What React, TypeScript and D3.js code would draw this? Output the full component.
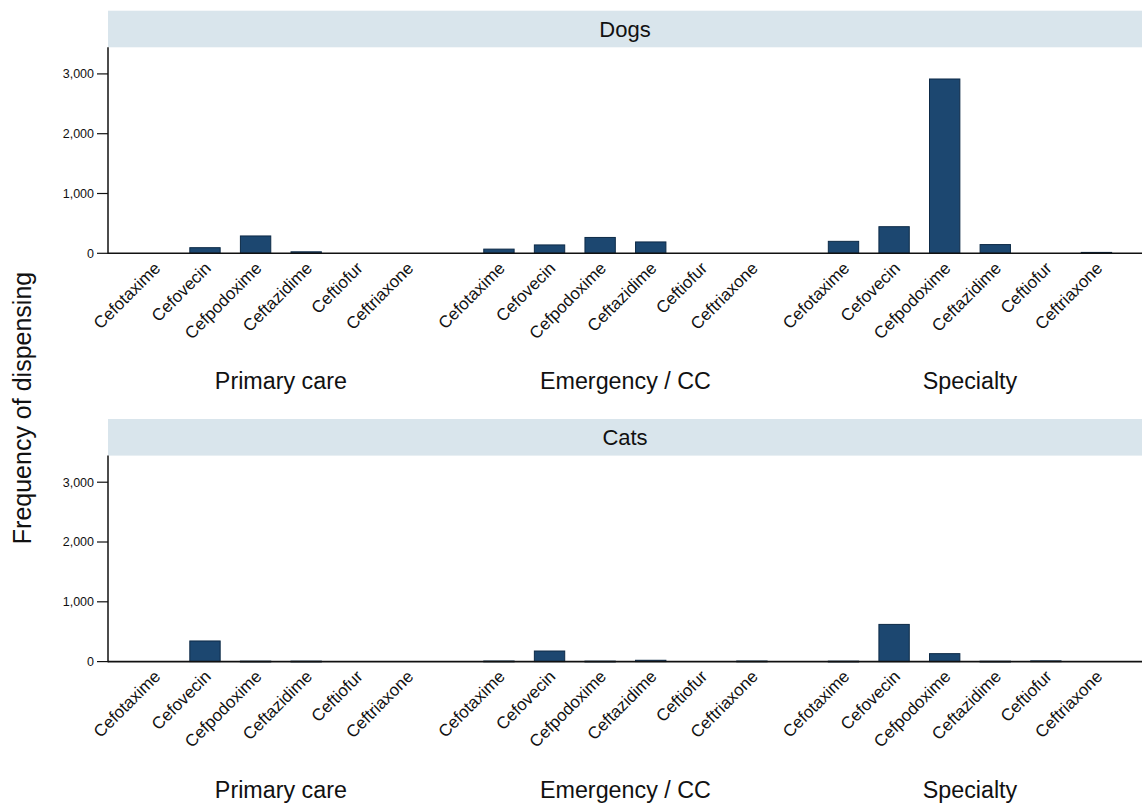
import React from "react";
import * as d3 from "d3";

// Cephalosporin dispensing counts by clinic type, for dogs and cats
const drugs = ["Cefotaxime", "Cefovecin", "Cefpodoxime", "Ceftazidime", "Ceftiofur", "Ceftriaxone"];
const settings = ["Primary care", "Emergency / CC", "Specialty"];

const dogsPrimary = [0, 94, 290, 25, 0, 0];
const dogsEmergency = [70, 140, 265, 190, 0, 0];
const dogsSpecialty = [200, 445, 2915, 146, 0, 15];

const catsPrimary = [0, 345, 8, 8, 0, 0];
const catsEmergency = [10, 177, 8, 22, 0, 10];
const catsSpecialty = [8, 622, 133, 7, 12, 0];

const yTicks = [0, 1000, 2000, 3000];

const panels = [
  { title: "Dogs", groups: [dogsPrimary, dogsEmergency, dogsSpecialty] },
  { title: "Cats", groups: [catsPrimary, catsEmergency, catsSpecialty] },
];

const W = 1142;
const H = 805;
const plotLeft = 108;
const plotRight = 1142;
const groupGap = 0.81; // extra space between clinic groups, in bar slots
const barWidthUnits = 0.6;
const lastSlot = 2 * (drugs.length + groupGap) + drugs.length - 1;

const x = d3
  .scaleLinear()
  .domain([-0.917, lastSlot + 0.9])
  .range([plotLeft, plotRight]);

const slot = (g: number, i: number) => g * (drugs.length + groupGap) + i;

const panelTops = [10.7, 419];
const stripH = 36.6;
const plotH = 206;

const fmt = d3.format(",");
const font = "'Liberation Sans', Arial, Helvetica, sans-serif";
const barFill = "#1c4770";
const barStroke = "#0d2a47";

function Panel({ top, title, groups }: { top: number; title: string; groups: number[][] }) {
  const plotTop = top + stripH;
  const base = plotTop + plotH;
  const y = d3.scaleLinear().domain([0, 3445]).range([base, plotTop]);
  const bw = x(barWidthUnits) - x(0);

  return (
    <g>
      <rect x={plotLeft} y={top} width={plotRight - plotLeft} height={stripH} fill="#d9e5ec" />
      <text
        x={(plotLeft + plotRight) / 2}
        y={top + stripH / 2 + 7.5}
        textAnchor="middle"
        fontSize={22}
        fontFamily={font}
        fill="#111"
      >
        {title}
      </text>

      {groups.map((vals, g) =>
        vals.map((v, i) => {
          const cx = x(slot(g, i));
          return v > 0 ? (
            <rect
              key={`b${g}-${i}`}
              x={cx - bw / 2}
              y={y(v)}
              width={bw}
              height={Math.max(base - y(v), 0.8)}
              fill={barFill}
              stroke={barStroke}
              strokeWidth={1}
            />
          ) : null;
        })
      )}

      {/* y axis */}
      <line x1={plotLeft} x2={plotLeft} y1={plotTop} y2={base + 0.75} stroke="#111" strokeWidth={1.5} />
      {yTicks.map((t) => (
        <g key={t}>
          <line x1={plotLeft - 11} x2={plotLeft} y1={y(t)} y2={y(t)} stroke="#111" strokeWidth={1.2} />
          <text
            x={plotLeft - 14}
            y={y(t) + 4.3}
            textAnchor="end"
            fontSize={12.5}
            fontFamily={font}
            fill="#111"
          >
            {fmt(t)}
          </text>
        </g>
      ))}

      {/* x axis */}
      <line x1={plotLeft} x2={plotRight} y1={base} y2={base} stroke="#111" strokeWidth={1.6} />

      {groups.map((_, g) =>
        drugs.map((d, i) => {
          const cx = x(slot(g, i));
          const ax = cx + 7;
          const ay = base + 16;
          return (
            <text
              key={`l${g}-${i}`}
              x={ax}
              y={ay}
              transform={`rotate(-45 ${ax} ${ay})`}
              textAnchor="end"
              fontSize={17}
              fontFamily={font}
              fill="#111"
            >
              {d}
            </text>
          );
        })
      )}

      {settings.map((s, g) => (
        <text
          key={s}
          x={(x(slot(g, 0)) + x(slot(g, drugs.length - 1))) / 2}
          y={base + 136}
          textAnchor="middle"
          fontSize={23.3}
          fontFamily={font}
          fill="#111"
        >
          {s}
        </text>
      ))}
    </g>
  );
}

export default function App() {
  return (
    <svg
      width={W}
      height={H}
      style={{ position: "absolute", left: 0, top: 0, background: "#fff" }}
    >
      <rect width={W} height={H} fill="#fff" />
      {panels.map((p, k) => (
        <Panel key={p.title} top={panelTops[k]} title={p.title} groups={p.groups} />
      ))}
      <text
        x={31}
        y={408}
        transform="rotate(-90 31 408)"
        textAnchor="middle"
        fontSize={25}
        fontFamily={font}
        fill="#111"
      >
        Frequency of dispensing
      </text>
    </svg>
  );
}
